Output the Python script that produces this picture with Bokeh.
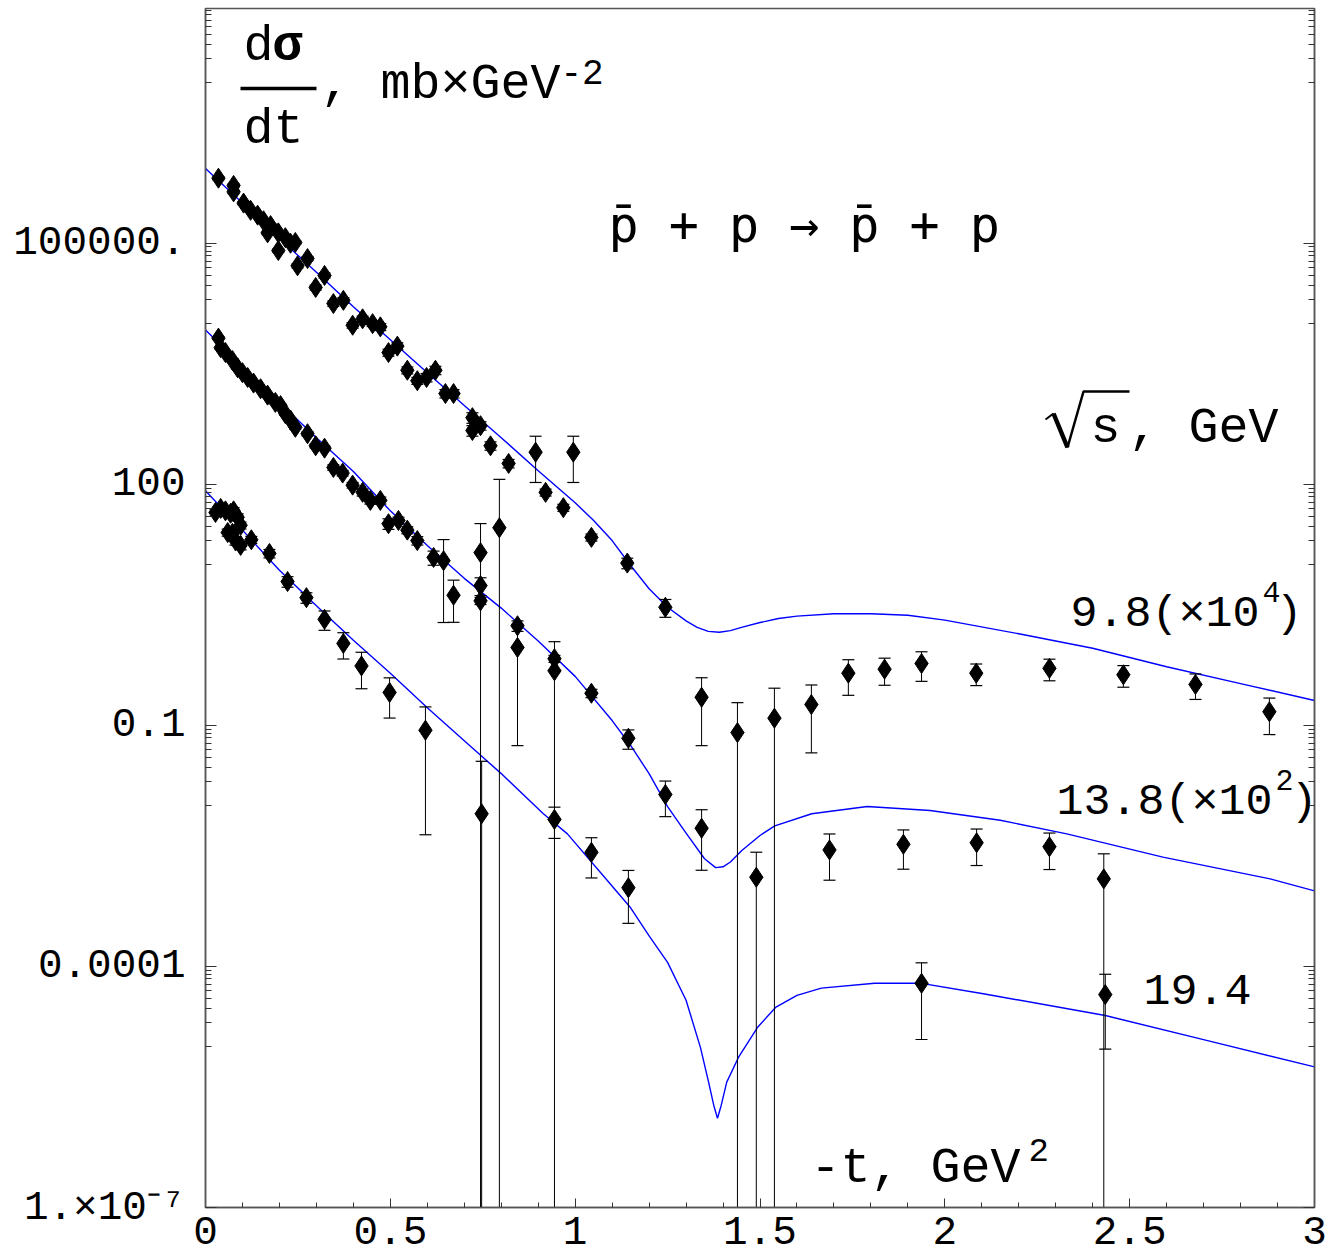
from bokeh.plotting import figure
from bokeh.models import FixedTicker, LogAxis, Label, NumeralTickFormatter
from bokeh.embed import file_html
from bokeh.resources import INLINE

# ---------------- data ----------------
# sqrt(s) = 9.8 GeV, plotted x 10^4 : -t (GeV^2), log10(dsigma/dt), relative error
t98 = [0.035, 0.076, 0.076, 0.103, 0.122, 0.141, 0.157, 0.168, 0.176, 0.197,
       0.197, 0.216, 0.230, 0.243, 0.249, 0.276, 0.298, 0.322, 0.346, 0.373,
       0.398, 0.425, 0.452, 0.473, 0.495, 0.519, 0.546, 0.573, 0.598, 0.622,
       0.649, 0.671, 0.722, 0.722, 0.744, 0.771, 0.820, 0.893, 0.920, 0.968,
       0.995, 1.044, 1.141, 1.244, 1.342, 1.439, 1.539, 1.639, 1.739, 1.837,
       1.937, 2.085, 2.283, 2.483, 2.678, 2.878]
lg98 = [5.81, 5.72, 5.64, 5.50, 5.41, 5.35, 5.28, 5.13, 5.22, 5.13,
        4.91, 5.07, 5.00, 5.01, 4.72, 4.81, 4.45, 4.60, 4.25, 4.29,
        3.98, 4.06, 4.00, 3.96, 3.64, 3.72, 3.42, 3.29, 3.33, 3.42,
        3.13, 3.13, 2.83, 2.67, 2.73, 2.48, 2.26, 2.40, 1.90, 1.71,
        2.40, 1.34, 1.02, 0.47, -0.65, -1.09, -0.91, -0.74, -0.35, -0.30,
        -0.23, -0.35, -0.29, -0.37, -0.49, -0.83]
e98 = [0.05, 0.05, 0.05, 0.05, 0.05, 0.05, 0.05, 0.05, 0.05, 0.05,
       0.05, 0.05, 0.05, 0.05, 0.06, 0.06, 0.07, 0.07, 0.08, 0.08,
       0.08, 0.08, 0.08, 0.10, 0.10, 0.10, 0.10, 0.10, 0.12, 0.12,
       0.12, 0.12, 0.15, 0.15, 0.12, 0.12, 0.12, 0.58, 0.10, 0.10,
       0.58, 0.10, 0.15, 0.25, 0.75, 1.36, 1.36, 0.75, 0.47, 0.37,
       0.40, 0.30, 0.30, 0.30, 0.35, 0.48]

# sqrt(s) = 13.8 GeV, plotted x 10^2
t138 = [0.035, 0.041, 0.054, 0.073, 0.087, 0.100, 0.114, 0.130, 0.149, 0.168,
        0.189, 0.203, 0.216, 0.230, 0.243, 0.276, 0.298, 0.322, 0.346, 0.371,
        0.398, 0.425, 0.446, 0.473, 0.495, 0.522, 0.546, 0.573, 0.617, 0.644,
        0.671, 0.744, 0.744, 0.744, 0.795, 0.844, 0.844, 0.944, 0.944, 1.044,
        1.144, 1.244, 1.342, 1.490, 1.688, 1.888, 2.086, 2.283, 2.430]
lg138 = [3.82, 3.70, 3.64, 3.54, 3.45, 3.39, 3.33, 3.26, 3.19, 3.11,
         3.02, 2.98, 2.88, 2.80, 2.71, 2.63, 2.48, 2.45, 2.21, 2.14,
         1.99, 1.90, 1.80, 1.80, 1.51, 1.55, 1.43, 1.30, 1.09, 1.05,
         0.62, 1.15, 0.74, 0.55, 1.46, 0.24, -0.03, -0.17, -0.32, -0.60,
         -1.16, -1.86, -2.28, -2.89, -2.55, -2.48, -2.46, -2.51, -2.91]
e138 = [0.04, 0.04, 0.04, 0.04, 0.04, 0.04, 0.04, 0.04, 0.04, 0.04,
        0.04, 0.04, 0.05, 0.05, 0.05, 0.06, 0.06, 0.06, 0.08, 0.08,
        0.08, 0.10, 0.10, 0.10, 0.15, 0.10, 0.10, 0.12, 0.20, 0.83,
        0.54, 1.30, 0.25, 0.10, 3.00, 0.15, 0.94, 0.10, 1.30, 0.12,
        0.27, 0.47, 0.70, 1.05, 0.58, 0.51, 0.48, 0.48, 1.05]

# sqrt(s) = 19.4 GeV
t194 = [0.027, 0.041, 0.054, 0.068, 0.076, 0.087, 0.060, 0.073, 0.081, 0.095,
        0.095, 0.124, 0.173, 0.222, 0.273, 0.322, 0.373, 0.422, 0.498, 0.595,
        0.747, 0.944, 1.044, 1.144, 1.937, 2.434]
lg194 = [1.65, 1.70, 1.67, 1.64, 1.67, 1.59, 1.40, 1.39, 1.30, 1.24,
         1.49, 1.31, 1.14, 0.79, 0.59, 0.32, 0.02, -0.26, -0.59, -1.06,
         -2.10, -2.17, -2.58, -3.02, -4.21, -4.35]
e194 = [0.10, 0.10, 0.10, 0.10, 0.10, 0.10, 0.10, 0.10, 0.12, 0.12,
        0.10, 0.10, 0.12, 0.15, 0.15, 0.27, 0.36, 0.48, 0.52, 0.95,
        3.50, 0.42, 0.52, 0.64, 0.80, 0.79]

# model curves: -t, log10(dsigma/dt)
tc98 = [0, 0.1, 0.2, 0.3, 0.4, 0.5, 0.6, 0.7, 0.8, 0.9, 1.0, 1.05, 1.1, 1.15, 1.2, 1.25,
        1.3, 1.33, 1.36, 1.39, 1.42, 1.45, 1.5, 1.55, 1.6, 1.7, 1.8, 1.9, 2.0, 2.2, 2.4, 2.6, 2.8, 3.0]
lc98 = [5.93, 5.50, 5.06, 4.64, 4.21, 3.80, 3.39, 2.98, 2.58, 2.17, 1.77, 1.55, 1.30, 0.99, 0.70, 0.47,
        0.30, 0.22, 0.17, 0.16, 0.18, 0.22, 0.28, 0.33, 0.36, 0.39, 0.39, 0.37, 0.31, 0.14, -0.04, -0.27, -0.48, -0.69]
tc138 = [0, 0.1, 0.2, 0.3, 0.4, 0.5, 0.6, 0.7, 0.8, 0.9, 1.0, 1.1, 1.15, 1.2, 1.25, 1.3, 1.35,
         1.38, 1.40, 1.42, 1.45, 1.5, 1.54, 1.64, 1.79, 1.96, 2.15, 2.33, 2.59, 2.88, 3.0]
lc138 = [3.92, 3.47, 3.02, 2.58, 2.16, 1.67, 1.24, 0.83, 0.46, 0.05, -0.39, -0.94, -1.25, -1.60, -2.01, -2.34, -2.66,
         -2.77, -2.76, -2.70, -2.56, -2.37, -2.25, -2.10, -2.01, -2.06, -2.18, -2.35, -2.64, -2.91, -3.06]
tc194 = [0, 0.1, 0.2, 0.3, 0.4, 0.5, 0.6, 0.7, 0.8, 0.914, 0.979, 1.087, 1.15, 1.2, 1.25, 1.3, 1.339,
         1.36, 1.375, 1.385, 1.395, 1.41, 1.442, 1.493, 1.542, 1.6, 1.666, 1.81, 1.937, 2.104, 2.434, 2.708, 3.0]
lc194 = [1.92, 1.43, 0.93, 0.49, 0.06, -0.35, -0.78, -1.19, -1.60, -2.10, -2.35, -2.93, -3.27, -3.62, -3.95, -4.42, -5.01,
         -5.42, -5.73, -5.89, -5.73, -5.44, -5.13, -4.76, -4.51, -4.36, -4.27, -4.21, -4.21, -4.34, -4.61, -4.92, -5.25]

x_major = [0, 0.5, 1, 1.5, 2, 2.5, 3]
x_minor = [0.1, 0.2, 0.3, 0.4, 0.6, 0.7, 0.8, 0.9, 1.1, 1.2, 1.3, 1.4, 1.6, 1.7, 1.8, 1.9,
           2.1, 2.2, 2.3, 2.4, 2.6, 2.7, 2.8, 2.9]
y_major = [1e-7, 1e-4, 1e-1, 1e2, 1e5]
y_labels = {1e5: "100000.", 1e2: "100", 1e-1: "0.1", 1e-4: "0.0001", 1e-7: "1.×10⁻⁷"}
y_minor_decades = [1e-5, 1e-2, 1e1, 1e4, 1e7]
y_minor = [k * d for d in y_minor_decades for k in range(1, 10)]

FONT = "Liberation Mono"

# ---------------- figure ----------------
YTOP = 10 ** 7.922
p = figure(frame_width=1109, frame_height=1199, x_range=(0, 3), y_range=(1e-7, YTOP),
           y_axis_type="log", output_backend="svg", toolbar_location=None,
           min_border_left=205, min_border_right=14, min_border_top=8, min_border_bottom=50)
p.xgrid.visible = False
p.ygrid.visible = False
p.outline_line_color = "#555555"
p.outline_line_width = 1.5
p.background_fill_color = "white"
p.border_fill_color = "white"


def style_axis(ax, major_in, minor_in):
    ax.major_tick_in = major_in
    ax.major_tick_out = 0
    ax.minor_tick_in = minor_in
    ax.minor_tick_out = 0
    ax.axis_line_color = "#555555"
    ax.axis_line_width = 1.5
    ax.major_tick_line_color = "#333333"
    ax.minor_tick_line_color = "#333333"
    ax.major_label_text_font = FONT
    ax.major_label_text_font_size = "41px"
    ax.major_label_text_color = "black"


xa = p.xaxis[0]
xa.ticker = FixedTicker(ticks=x_major, minor_ticks=x_minor)
xa.formatter = NumeralTickFormatter(format="0.[0]")
style_axis(xa, 9, 5)
xa.major_label_standoff = 9

ya = p.yaxis[0]
ya.ticker = FixedTicker(ticks=y_major, minor_ticks=y_minor)
ya.major_label_overrides = y_labels
style_axis(ya, 11, 6)
ya.major_label_standoff = 20

ra = LogAxis(ticker=FixedTicker(ticks=y_major, minor_ticks=y_minor))
style_axis(ra, 11, 6)
ra.major_label_overrides = {v: "" for v in y_major}
ra.major_label_standoff = 0
p.add_layout(ra, "right")

# ---------------- curves ----------------
for tc, lc in [(tc98, lc98), (tc138, lc138), (tc194, lc194)]:
    p.line(tc, [10 ** v for v in lc], line_color="#0000ff", line_width=1.4)

# ---------------- data points with error bars ----------------
for t, lg, e in [(t98, lg98, e98), (t138, lg138, e138), (t194, lg194, e194)]:
    y = [10 ** v for v in lg]
    up = [yy * (1 + ee) for yy, ee in zip(y, e)]
    lo = [yy * (1 - ee) if ee < 1 else 1e-12 for yy, ee in zip(y, e)]
    p.segment(x0=t, y0=lo, x1=t, y1=up, line_color="black", line_width=1)
    p.scatter(x=t, y=up, marker="dash", size=12, line_color="black", line_width=1.2)
    lt = [tt for tt, ll in zip(t, lo) if ll > 1e-7]
    ll_ = [ll for ll in lo if ll > 1e-7]
    p.scatter(x=lt, y=ll_, marker="dash", size=12, line_color="black", line_width=1.2)
    p.scatter(x=t, y=y, marker="diamond", size=20, fill_color="black", line_color="black")


# ---------------- annotations (positions given in reference pixels) ----------------
def dx(px):
    return (px - 205) * 3.0 / 1109


def dy(py):
    return 10 ** (-7 + (1207 - py) * 14.922 / 1199)


def lab(px, py, text, size, font=FONT, style="normal", align="left"):
    p.add_layout(Label(x=dx(px), y=dy(py), text=text, text_font=font,
                       text_font_size=f"{size}px", text_font_style=style,
                       text_align=align, text_baseline="alphabetic", text_color="black"))


def stroke(pts, width):
    p.line([dx(a) for a, b in pts], [dy(b) for a, b in pts], line_color="black", line_width=width)


lab(243, 46, "d", 50)
lab(272, 46, "σ", 50, style="bold")
stroke([(240, 88), (316, 88)], 3.5)
lab(243, 129, "dt", 50)
lab(320, 84, ", mb×GeV", 50)
lab(560, 71, "-2", 36)

lab(608, 224, "p\u0304 + p → p\u0304 + p", 50, font="DejaVu Sans Mono")

# radical sign of sqrt(s)
stroke([(1045, 419), (1053, 413)], 2)
stroke([(1053, 413), (1067, 447)], 4.5)
stroke([(1067, 447), (1083, 391), (1129, 391)], 2.5)
lab(1090, 428, "s", 50)
lab(1128, 428, ", GeV", 50)

lab(1070, 614, "9.8(×10", 45)
lab(1262, 591, "4", 30)
lab(1275, 614, ")", 45)

lab(1056, 802, "13.8(×10", 45)
lab(1275, 779, "2", 30)
lab(1290, 802, ")", 45)

lab(1143, 989, "19.4", 45)

lab(810, 1168, "-t, GeV", 50)
lab(1028, 1149, "2", 34)

open("out.html", "w").write(file_html(p, INLINE))
